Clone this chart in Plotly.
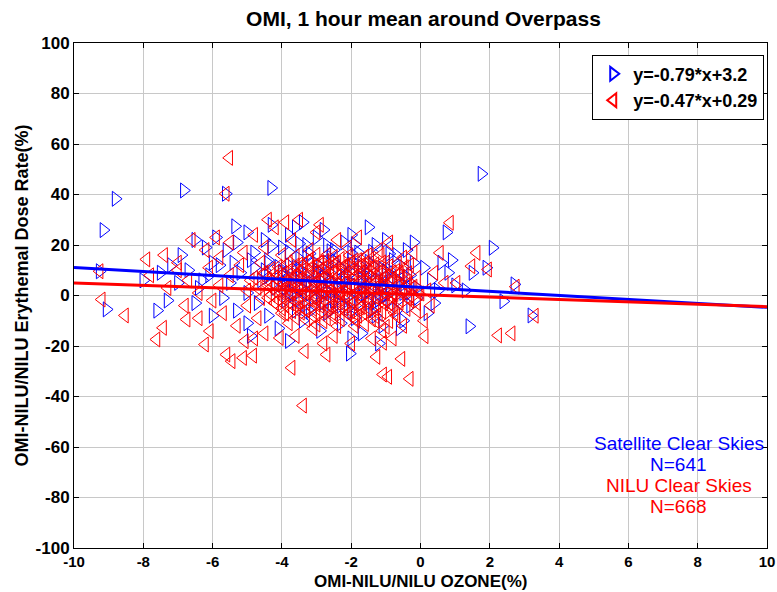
import plotly.graph_objects as go

# ---------------- data ----------------
sat_x = [
    -9.15, -8.8, -6.83, -5.62, -4.31, -5.35, 1.76, 0.75, 2.08, 2.71, -9.06, 1.41, 2.39, 3.2, -2.04, -9.26,
    -6.9, -6.5, -6.2, -5.9, -5.6, -5.3, -5.0, -4.8, -4.5, -4.3, -4.0, -3.8, -3.6, -3.3, -3.0, -2.8, -2.5,
    -2.2, -2.0, -1.8, -1.5, -1.3, -1.0, -0.7, -0.4, -0.2, -3.4, -2.6, -4.9, -6.0, -7.2, -7.5, -8.0,
    -7.0, -6.7, -6.4, -6.1, -5.8, -5.5, -5.2, -5.0, -4.8, -4.6, -4.4, -4.2, -4.0, -3.8, -3.7, -3.5, -3.3,
    -3.2, -3.0, -2.9, -2.7, -2.6, -2.4, -2.3, -2.1, -2.0, -1.9, -1.7, -1.6, -1.4, -1.2, -1.1, -0.9, -0.8,
    -0.6, -0.5, -0.3, -0.1, 0.1, 0.3, 0.5, 0.8, -3.9, -3.1, -2.2, -1.5, -4.5, -5.4, -6.3, -2.8, -3.6,
    -1.0, -0.2, 0.6,
    -6.5, -6.0, -5.7, -5.3, -5.0, -4.7, -4.4, -4.1, -3.9, -3.6, -3.4, -3.1, -2.9, -2.7, -2.5, -2.3, -2.1,
    -1.9, -1.7, -1.5, -1.3, -1.1, -0.9, -0.7, -0.5, -0.3, -0.1, 0.2, 0.4, -7.3, -7.6, -4.9, -3.8, -2.0,
    -1.2, -0.6, 1.0, 1.5, 1.9, 0.9, 1.3,
]
sat_y = [
    25.9, 38.3, 41.6, 40.3, 42.6, 27.4, 48.2, 25.0, 18.9, 4.4, -5.5, -12.2, -2.3, -7.9, -23.0, 9.6,
    16, 22, 19, 23, 18, 21, 25, 17, 22, 28, 19, 24, 27, 20, 23, 26, 18,
    21, 24, 17, 27, 20, 22, 16, 18, 21, 29, 15, 14, 13, 12, 9, 6,
    5, 10, 3, 8, 12, 5, 9, 1, 11, 6, 14, 3, 9, 12, 1, 7, 15,
    4, 10, 0, 13, 6, 2, 11, 8, 14, 4, 9, 1, 12, 6, 3, 10, 14,
    5, 1, 8, 3, 11, 6, 2, 9, 5, 2, 5, 7, 10, 13, 6, 8, 11,
    0, 13, 13,
    -3, -8, -1, -6, -11, -3, -8, -13, -2, -6, -10, -4, -14, -7, -2, -11, -5,
    -9, -15, -3, -8, -12, -2, -6, -10, -4, -1, -7, -3, -2, -6, -16, -18, -17,
    -19, -13, 4, 9, 11, 14, 2,
]
sat_core_x = [
    -4.0, -3.5, -3.0, -2.5, -2.0, -1.5, -1.0,
    -4.2, -3.7, -3.2, -2.7, -2.2, -1.7, -1.2, -0.7,
    -3.9, -3.4, -2.9, -2.4, -1.9, -1.4, -0.9,
    -3.6, -3.1, -2.6, -2.1, -1.6, -1.1,
    -3.3, -2.8, -2.3, -1.8, -1.3,
    -3.0, -2.5, -2.0, -1.5, -3.5, -4.4,
    -3.8, -3.2, -2.6, -2.0, -1.4, -0.9,
    -4.1, -3.5, -2.9, -2.3, -1.7, -1.1, -0.5,
    -4.4, -3.9, -3.3, -2.8, -2.2, -1.6, -1.0, -0.4,
    -4.0, -3.5, -2.9, -2.3, -1.7, -1.1, -0.5,
    -3.8, -3.2, -2.7, -2.1, -1.5, -0.9, -0.3,
    -3.5, -2.9, -2.4, -1.8, -1.2, -0.6,
    -3.2, -2.6, -2.0, -1.4,
    -3.5, -2.7, -1.9, -4.3,
]
sat_core_y = [
    9.5, 8.1, 9.2, 7.8, 9.0, 8.4, 9.6,
    5.3, 6.4, 5.5, 6.8, 5.9, 6.3, 5.1, 6.7,
    3.1, 2.4, 3.5, 2.8, 3.2, 2.5, 3.8,
    0.5, -0.7, 0.9, -0.3, 0.7, -0.5,
    -3.5, -2.8, -3.9, -3.1, -2.6,
    12.5, 13.8, 12.2, 13.4, 14.6, 12.8,
    17.2, 16.6, 17.5, 16.8, 17.3, 16.5,
    11.3, 10.7, 11.5, 10.9, 11.4, 10.6, 11.2,
    7.6, 7.2, 7.8, 7.1, 7.7, 7.3, 7.9, 7.4,
    4.3, 3.8, 4.5, 4.0, 4.6, 4.1, 4.4,
    1.2, 0.8, 1.5, 1.0, 1.4, 0.9, 1.3,
    -1.6, -1.2, -1.8, -1.3, -1.7, -1.4,
    -6.3, -5.8, -6.5, -5.9,
    20.5, 19.8, 20.3, 19.6,
]

nilu_x = [
    -5.52, -7.91, -9.2, -8.53, -7.62, -7.43, -6.75, -6.22, -6.08, -5.6, -5.45, -5.12, -4.83, -5.07,
    -3.72, -3.39, -4.06, -3.34, -2.71, -1.27, -1.08, -0.93, -0.31, -0.55, 0.12, 2.24, 2.63, -1.08,
    0.56, 0.85, 1.62, 1.47, 1.95, 1.04, 3.3, 2.75, -5.62, -9.26,
    -6.6, -6.2, -5.8, -5.5, -5.1, -4.8, -4.5, -4.2, -4.0, -3.7, -3.5, -3.2, -3.0, -2.7, -2.4, -2.1,
    -1.8, -1.5, -1.2, -0.9, -0.5, -0.2, -2.9, -4.4, -5.9, -7.0, -7.4, -3.9,
    -7.8, -7.3, -7.0, -6.7, -6.4, -6.1, -5.8, -5.5, -5.2, -5.0, -4.8, -4.6, -4.4, -4.2, -4.0, -3.9,
    -3.7, -3.5, -3.4, -3.2, -3.1, -2.9, -2.8, -2.6, -2.5, -2.4, -2.3, -2.2, -2.0, -1.9, -1.8, -1.7,
    -1.6, -1.4, -1.3, -1.2, -1.0, -0.9, -0.8, -0.6, -0.4, -0.3, -0.1, 0.2, 0.4, 0.7, -3.6, -3.0,
    -2.7, -2.1, -1.5, -2.5, -3.3, -4.1, -1.1, -2.2, -2.9, -1.7, -3.8,
    -6.8, -6.4, -6.0, -5.7, -5.3, -5.0, -4.7, -4.5, -4.2, -4.0, -3.8, -3.5, -3.3, -3.1, -2.9, -2.7,
    -2.5, -2.3, -2.1, -1.9, -1.7, -1.5, -1.3, -1.1, -0.9, -0.7, -0.5, -0.3, -0.1, 0.1, 0.3, -2.0,
    -1.4, -3.6, -2.8, -0.8, -4.8, -3.0, -2.4, -1.8,
]
nilu_y = [
    54.5, 14.3, -1.6, -7.9, -17.4, -12.8, -9.5, -19.4, -14.1, -23.4, -26.0, -24.7, -23.8, -18.1,
    -28.6, -43.6, -16.8, -22.0, -23.4, -24.3, -31.3, -32.2, -33.0, -25.1, -16.1, -15.8, -15.0, -18.7,
    16.9, 28.8, 16.9, 11.6, 10.3, 5.0, -8.0, 3.5, 40.3, 9.6,
    22, 18, 15, 21, 17, 24, 19, 27, 16, 22, 30, 18, 25, 16, 22, 19,
    23, 16, 18, 21, 15, 17, 28, 30, 23, 13, 16, 29,
    8, 3, 10, 6, 1, 11, 4, 8, 12, 2, 7, 13, 4, 9, 1, 12,
    6, 3, 10, 14, 7, 2, 11, 5, 9, 13, 1, 7, 4, 10, 14, 2,
    6, 11, 3, 8, 13, 5, 1, 9, 4, 12, 7, 2, 9, 5, 8, 5,
    8, 3, 9, 0, 1, 6, 5, 11, 13, 12, 4,
    -4, -9, -2, -7, -12, -4, -9, -15, -3, -7, -11, -2, -6, -13, -4, -9,
    -16, -3, -7, -12, -2, -5, -10, -14, -3, -8, -12, -2, -6, -10, -4, -19,
    -17, -16, -19, -17, -17, -1, -5, -8,
]
nilu_core_x = [
    -4.3, -3.8, -3.4, -2.9, -2.5, -2.0, -1.6, -1.1, -0.7,
    -4.1, -3.6, -3.2, -2.7, -2.3, -1.9, -1.4, -1.0, -0.6,
    -4.4, -3.9, -3.45, -3.0, -2.6, -2.15, -1.7, -1.25, -0.8, -0.4,
    -4.2, -3.7, -3.3, -2.8, -2.4, -2.0, -1.55, -1.1, -0.65,
    -4.0, -3.5, -3.1, -2.65, -2.2, -1.8, -1.35, -0.9, -0.5,
    -4.3, -3.8, -3.4, -2.95, -2.55, -2.05, -1.6, -1.2, -0.75, -0.3,
    -4.1, -3.6, -3.2, -2.75, -2.3, -1.9, -1.45, -1.0, -0.6,
    -3.9, -3.45, -3.0, -2.6, -2.15, -1.7, -1.25, -0.8,
    -3.7, -3.3, -2.85, -2.4, -2.0, -1.55, -1.1,
    -3.5, -3.05, -2.6, -2.15, -1.75, -1.3,
    -3.2, -2.75, -2.3, -1.9, -1.45,
    -4.7, -4.6, -4.9, -0.2, 0.0, -0.1, -4.5, -3.1, -2.5, -1.9, -3.6, -1.3,
    -4.1, -3.6, -3.15, -2.7, -2.25, -1.8, -1.35, -0.9, -0.45,
    -4.5, -3.95, -3.5, -3.05, -2.6, -2.1, -1.7, -1.2, -0.8, -0.35,
    -4.2, -3.75, -3.25, -2.85, -2.4, -1.95, -1.5, -1.05, -0.55,
    -4.4, -3.95, -3.5, -3.05, -2.6, -2.2, -1.75, -1.3, -0.85, -0.35,
    -4.3, -3.85, -3.4, -2.95, -2.5, -2.1, -1.65, -1.2, -0.75, -0.25,
    -4.15, -3.7, -3.25, -2.8, -2.35, -1.9, -1.45, -1.0, -0.55, -0.05,
    -4.4, -3.95, -3.5, -3.05, -2.6, -2.15, -1.7, -1.25, -0.8, -0.35,
    -4.2, -3.75, -3.3, -2.85, -2.4, -1.95, -1.5, -1.05, -0.6,
    -4.0, -3.55, -3.1, -2.65, -2.2, -1.75, -1.3, -0.85, -0.4,
    -3.9, -3.45, -3.0, -2.55, -2.1, -1.65, -1.2, -0.75,
    -3.8, -3.35, -2.9, -2.45, -2.0, -1.55, -1.1, -0.65,
    -3.6, -3.0, -2.5, -2.05, -1.6, -1.15,
    -3.3, -2.8, -2.3, -1.85, -1.4, -0.9,
    -3.0, -2.4, -1.6, -1.0,
]
nilu_core_y = [
    10.5, 9.8, 10.9, 10.2, 9.5, 10.7, 9.9, 10.4, 9.7,
    8.3, 7.6, 8.8, 7.9, 8.5, 7.4, 8.2, 7.7, 8.6,
    6.2, 5.7, 6.6, 5.9, 6.4, 5.5, 6.1, 5.8, 6.5, 5.6,
    4.4, 3.8, 4.6, 3.5, 4.2, 3.9, 4.5, 3.6, 4.1,
    2.3, 1.7, 2.6, 1.9, 2.4, 1.6, 2.2, 1.8, 2.5,
    0.3, -0.4, 0.5, -0.2, 0.4, -0.5, 0.2, -0.3, 0.6, -0.1,
    -1.8, -2.4, -1.6, -2.2, -1.5, -2.5, -1.9, -2.3, -1.7,
    -3.8, -4.4, -3.6, -4.2, -3.9, -4.5, -3.7, -4.3,
    -6.2, -5.7, -6.5, -5.9, -6.3, -5.6, -6.4,
    12.3, 11.8, 12.6, 12.1, 11.6, 12.4,
    14.2, 13.7, 14.5, 13.9, 14.3,
    3.0, -1.0, 6.0, 3.5, 0.8, -3.0, 8.5, -8.0, -8.5, -9.0, -8.8, -8.2,
    11.4, 11.9, 11.2, 11.7, 11.3, 11.8, 11.1, 11.6, 11.2,
    9.1, 8.7, 9.4, 8.9, 9.2, 8.8, 9.3, 8.9, 9.2, 8.8,
    7.2, 6.9, 7.4, 6.8, 7.3, 6.9, 7.2, 6.8, 7.3,
    5.1, 4.8, 5.3, 4.9, 5.2, 4.8, 5.3, 4.9, 5.1, 4.7,
    3.2, 2.9, 3.3, 2.8, 3.1, 2.7, 3.2, 2.9, 3.3, 2.8,
    1.2, 0.8, 1.3, 0.9, 1.1, 0.7, 1.2, 0.8, 1.3, 0.9,
    -0.9, -1.2, -0.8, -1.3, -0.9, -1.1, -0.7, -1.2, -0.8, -1.1,
    -2.9, -3.2, -2.8, -3.3, -2.9, -3.1, -2.7, -3.2, -2.8,
    -5.1, -4.8, -5.3, -4.9, -5.2, -4.8, -5.2, -4.9, -5.3,
    -7.2, -6.8, -7.3, -6.9, -7.2, -6.8, -7.3, -6.9,
    13.1, 12.8, 13.3, 12.9, 13.2, 12.7, 13.1, 12.8,
    15.6, 16.1, 15.3, 15.9, 15.4, 16.0,
    -9.6, -10.2, -9.4, -10.0, -9.5, -10.1,
    -11.5, -12.1, -11.3, -12.4,
]

fit_names = ["y=-0.79*x+3.2", "y=-0.47*x+0.29"]
fit_slopes = [-0.79, -0.47]
fit_intercepts = [3.2, 0.29]
fit_xrange = [-10, 10]

x_ticks = [-10, -8, -6, -4, -2, 0, 2, 4, 6, 8, 10]
y_ticks = [-100, -80, -60, -40, -20, 0, 20, 40, 60, 80, 100]

BLUE = "rgb(0,0,255)"
RED = "rgb(255,0,0)"
FONT = "Liberation Sans, Arial, sans-serif"

fig = go.Figure()

fig.add_trace(go.Scatter(
    x=sat_x + sat_core_x, y=sat_y + sat_core_y, mode="markers", name=fit_names[0],
    marker=dict(symbol="triangle-right-open", size=13, color=BLUE, line=dict(width=1, color=BLUE)),
))
fig.add_trace(go.Scatter(
    x=nilu_x + nilu_core_x, y=nilu_y + nilu_core_y, mode="markers", name=fit_names[1],
    marker=dict(symbol="triangle-left-open", size=13, color=RED, line=dict(width=1, color=RED)),
))

for slope, icpt, col in zip(fit_slopes, fit_intercepts, [BLUE, RED]):
    fig.add_trace(go.Scatter(
        x=fit_xrange, y=[slope * v + icpt for v in fit_xrange], mode="lines",
        line=dict(color=col, width=3), showlegend=False, hoverinfo="skip",
    ))

fig.update_layout(
    width=777, height=592,
    margin=dict(l=74, r=10, t=43, b=44, autoexpand=False),
    paper_bgcolor="white", plot_bgcolor="white",
    font=dict(family=FONT, size=16, color="black"),
    title=dict(text="<b>OMI, 1 hour mean around Overpass</b>", x=0.545, xanchor="center",
               y=0.968, yanchor="middle", font=dict(size=21, family=FONT)),
    showlegend=True,
    legend=dict(x=0.996, y=0.977, xanchor="right", yanchor="top", bgcolor="white",
                bordercolor="black", borderwidth=1, font=dict(size=18, family=FONT, weight="bold"),
                tracegroupgap=0, itemsizing="constant"),
)

fig.update_xaxes(
    range=[-10, 10], tickvals=x_ticks, ticktext=[str(v) for v in x_ticks],
    showgrid=True, gridcolor="#c8c8c8", gridwidth=1, zeroline=False, automargin=False,
    showline=True, linecolor="black", linewidth=1, mirror="ticks",
    ticks="inside", ticklen=5, tickcolor="black",
    tickfont=dict(size=15, family=FONT, weight="bold"),
)
fig.update_yaxes(
    range=[-100, 100], tickvals=y_ticks, ticktext=[str(v) for v in y_ticks],
    showgrid=True, gridcolor="#c8c8c8", gridwidth=1, zeroline=False, automargin=False,
    showline=True, linecolor="black", linewidth=1, mirror="ticks",
    ticks="inside", ticklen=5, tickcolor="black",
    tickfont=dict(size=17, family=FONT, weight="bold"),
    title=dict(text="<b>OMI-NILU/NILU Erythemal Dose Rate(%)</b>", font=dict(size=18, family=FONT), standoff=2),
)

# x-axis title as annotation so it sits just under the tick labels
fig.add_annotation(x=0.5, y=-0.0875, xref="paper", yref="paper", yanchor="bottom", xanchor="center",
                   text="<b>OMI-NILU/NILU OZONE(%)</b>", showarrow=False, borderpad=0,
                   font=dict(size=17, family=FONT, color="black"))

annots = [
    ("Satellite Clear Skies", BLUE, -58.5),
    ("N=641", BLUE, -66.8),
    ("NILU Clear Skies", RED, -75.2),
    ("N=668", RED, -83.5),
]
for txt, col, yv in annots:
    fig.add_annotation(x=7.45, y=yv, xref="x", yref="y", text=txt, showarrow=False,
                       font=dict(size=19, color=col, family=FONT), xanchor="center", yanchor="middle")

fig.write_html("out.html")
